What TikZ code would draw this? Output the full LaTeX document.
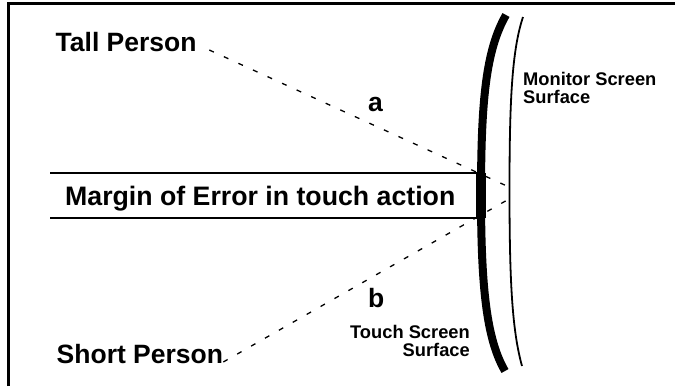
\documentclass[tikz,border=0pt]{standalone}
\usepackage{fontspec}
\setmainfont{Liberation Sans}
\begin{document}
\begin{tikzpicture}[x=1pt,y=-1pt,
  label/.style={inner sep=0pt,font=\bfseries\fontsize{26.5}{30}\selectfont},
  small/.style={inner sep=0pt,font=\bfseries\fontsize{18.3}{18}\selectfont},
  sight/.style={line width=1.3pt,dash pattern=on 5pt off 11pt},
  rule/.style={line width=2pt},
  frame/.style={line width=2.4pt}]
\useasboundingbox (0,0) rectangle (675,386);

% frame edges
\draw[frame] (8.5,386) -- (8.5,3.5) -- (675,3.5);

% touch screen (thick) and monitor screen (thin) surfaces
\draw[line width=8pt] (506,15) .. controls (486,50) and (481,100) .. (481,195)
  .. controls (481,290) and (487,340) .. (505,371);
\fill (476,172.7) rectangle (486,218);
\draw[line width=1.8pt] (523,17) .. controls (512,50) and (509.5,100) .. (509.5,190)
  .. controls (509.5,280) and (512,330) .. (522,366);

% margin of error band
\coordinate (mTL) at (50,172.7);
\coordinate (mTR) at (477,172.7);
\coordinate (mBL) at (50,218);
\coordinate (mBR) at (477,218);
\draw[rule] (mTL) -- (mTR);
\draw[rule] (mBL) -- (mBR);
\node[label,font=\bfseries\fontsize{26.7}{30}\selectfont,anchor=base west] (margin) at (65,205)
  {Margin of Error in touch action};

% viewers
\node[label,anchor=base west] (tall) at (55.5,51) {Tall Person};
\node[label,anchor=base west] (short) at (56.5,363) {Short Person};

% sight lines to the screen
\coordinate (hitT) at (509,187);
\coordinate (hitS) at (509,199);
\draw[sight] ([xshift=12.5pt,yshift=1pt]tall.base east) -- (hitT);
\draw[sight] ([yshift=1pt]short.base east) -- (hitS);

\node[label,anchor=base west] (la) at (368,111) {a};
\node[label,anchor=base west] (lb) at (368,307) {b};

% surface captions
\node[small,align=left,anchor=north west] (mon) at (523,71.6) {Monitor Screen\\Surface};
\node[small,align=right,anchor=north east] (touch) at (470,325) {Touch Screen\\Surface};
\end{tikzpicture}
\end{document}
